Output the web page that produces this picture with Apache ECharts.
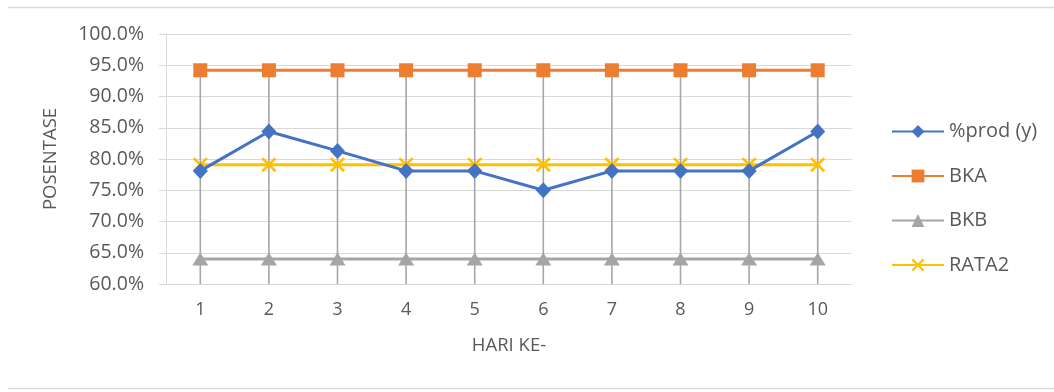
<!DOCTYPE html>
<html>
<head>
<meta charset="utf-8">
<script src="https://cdn.jsdelivr.net/npm/echarts@6/dist/echarts.min.js"></script>
<style>
  html, body { margin: 0; padding: 0; background: #ffffff; }
  #chart { width: 1054px; height: 392px; }
</style>
</head>
<body>
<div id="chart"></div>
<script>
// Days of observation
const days = ['1', '2', '3', '4', '5', '6', '7', '8', '9', '10'];
// Daily production percentage
const prod = [78.1, 84.4, 81.3, 78.1, 78.1, 75.0, 78.1, 78.1, 78.1, 84.4];
// Upper control limit
const bka = [94.2, 94.2, 94.2, 94.2, 94.2, 94.2, 94.2, 94.2, 94.2, 94.2];
// Lower control limit
const bkb = [64.0, 64.0, 64.0, 64.0, 64.0, 64.0, 64.0, 64.0, 64.0, 64.0];
// Average
const rata2 = [79.1, 79.1, 79.1, 79.1, 79.1, 79.1, 79.1, 79.1, 79.1, 79.1];
// Value axis range (percent)
const yMin = 60, yMax = 100, yStep = 5;

const FONT = '"Open Sans", "DejaVu Sans", sans-serif';
const TXT = '#595959';
const GRID = '#d9d9d9';
const X_MARK = 'path://M0,1.2 L1.2,0 L5,3.8 L8.8,0 L10,1.2 L6.2,5 L10,8.8 L8.8,10 L5,6.2 L1.2,10 L0,8.8 L3.8,5 Z';

const chart = echarts.init(document.getElementById('chart'), null, { renderer: 'canvas' });

chart.setOption({
  animation: false,
  backgroundColor: '#ffffff',
  textStyle: { fontFamily: FONT },
  graphic: [
    { type: 'line', shape: { x1: 8, y1: 7.5, x2: 1054, y2: 7.5 }, style: { stroke: GRID, lineWidth: 1.5 }, silent: true },
    { type: 'line', shape: { x1: 8, y1: 388.5, x2: 1054, y2: 388.5 }, style: { stroke: GRID, lineWidth: 1.5 }, silent: true }
  ],
  grid: { left: 166, right: 202, top: 34, bottom: 108, containLabel: false },
  legend: {
    orient: 'vertical',
    left: 891,
    top: 121,
    padding: 0,
    itemWidth: 52,
    itemHeight: 16,
    itemGap: 23.5,
    data: ['%prod (y)', 'BKA', 'BKB', 'RATA2'],
    textStyle: { color: TXT, fontSize: 20, fontFamily: FONT, lineHeight: 21 }
  },
  xAxis: {
    type: 'category',
    data: days,
    boundaryGap: true,
    name: 'HARI KE-',
    nameLocation: 'middle',
    nameGap: 52,
    nameTextStyle: { color: TXT, fontSize: 18.5, fontFamily: FONT },
    axisLine: { show: true, lineStyle: { color: GRID, width: 1 } },
    axisTick: { show: false },
    axisLabel: { color: TXT, fontSize: 18, fontFamily: FONT, margin: 17 },
    splitLine: { show: false }
  },
  yAxis: {
    type: 'value',
    min: yMin,
    max: yMax,
    interval: yStep,
    name: 'POSENTASE',
    nameLocation: 'middle',
    nameGap: 106,
    nameTextStyle: { color: TXT, fontSize: 18.5, fontFamily: FONT },
    axisLine: { show: true, lineStyle: { color: GRID, width: 1 } },
    axisTick: { show: true, length: 7, lineStyle: { color: GRID, width: 1 } },
    axisLabel: {
      color: TXT, fontSize: 19.5, fontFamily: FONT, margin: 22,
      formatter: v => v.toFixed(1) + '%'
    },
    splitLine: { show: true, lineStyle: { color: GRID, width: 1 } }
  },
  series: [
    {
      // drop lines from the upper limit down to the category axis
      name: 'drop',
      type: 'bar',
      data: bka,
      barWidth: 1.6,
      silent: true,
      z: 1,
      itemStyle: { color: '#a6a6a6' }
    },
    {
      name: 'BKB',
      type: 'line',
      data: bkb,
      symbol: 'triangle',
      symbolSize: [16, 13],
      lineStyle: { color: '#a5a5a5', width: 3 },
      itemStyle: { color: '#a5a5a5' },
      z: 3
    },
    {
      name: 'RATA2',
      type: 'line',
      data: rata2,
      symbol: X_MARK,
      symbolSize: 15,
      lineStyle: { color: '#ffc000', width: 3 },
      itemStyle: { color: '#ffc000' },
      z: 4
    },
    {
      name: 'BKA',
      type: 'line',
      data: bka,
      symbol: 'rect',
      symbolSize: 14,
      lineStyle: { color: '#ed7d31', width: 3 },
      itemStyle: { color: '#ed7d31' },
      z: 5
    },
    {
      name: '%prod (y)',
      type: 'line',
      data: prod,
      symbol: 'diamond',
      symbolSize: [15, 16],
      lineStyle: { color: '#4472c4', width: 3 },
      itemStyle: { color: '#4472c4' },
      z: 6
    }
  ]
});
</script>
</body>
</html>
